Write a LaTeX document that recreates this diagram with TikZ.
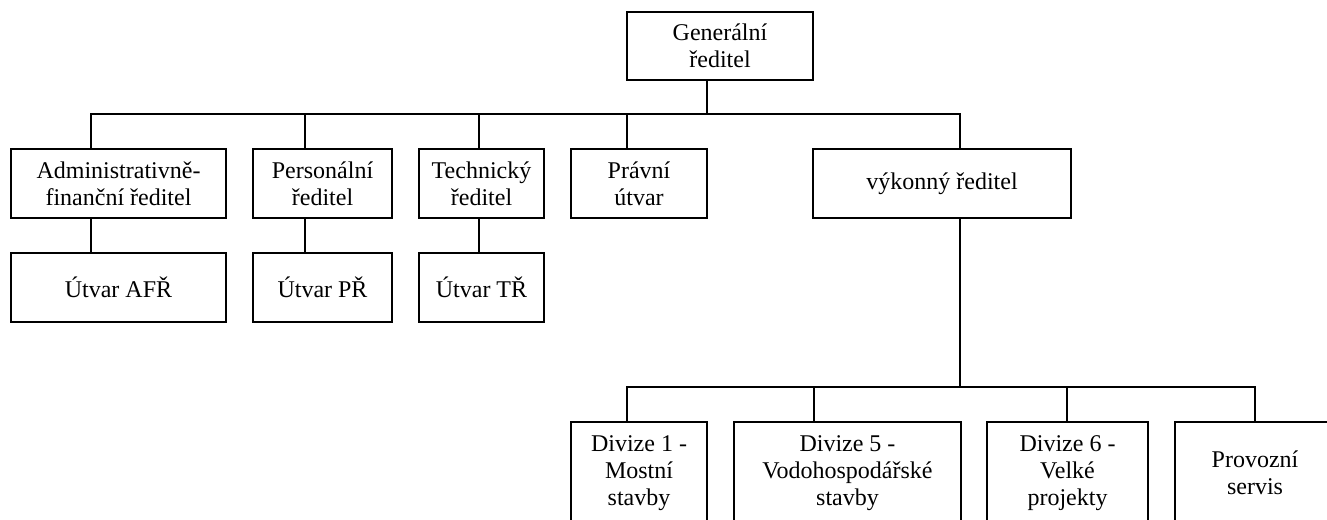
\documentclass[tikz,border=0pt]{standalone}
\usepackage{fontspec}
\setmainfont{Liberation Serif}
\begin{document}
\begin{tikzpicture}[x=0.75pt,y=-0.75pt,
  box/.style={draw,line width=1.6pt,rectangle,align=center,inner sep=0pt,
    font=\fontsize{18}{20.25}\selectfont},
  upper/.style={box,minimum height=51.75pt},
  lower/.style={box,minimum height=76.5pt},
  conn/.style={line width=1.6pt}]
\useasboundingbox (0,0) rectangle (1327,519);
\clip (0,0) rectangle (1327,519);
% top
\node[box,minimum width=139.5pt,minimum height=51pt] (gr) at (720,46) {Generální\\ředitel};
% second row
\node[upper,minimum width=161.25pt] (af) at (118.5,183.5) {Administrativně-\\finanční ředitel};
\node[upper,minimum width=104.25pt] (pr) at (322.5,183.5) {Personální\\ředitel};
\node[upper,minimum width=93.75pt] (tr) at (481.5,183.5) {Technický\\ředitel};
\node[upper,minimum width=102pt] (pu) at (639,183.5) {Právní\\útvar};
\node[upper,minimum width=193.5pt] (vr) at (942,183.5) {výkonný ředitel};
% third row
\node[upper,minimum width=161.25pt] (afr) at (118.5,287.5) {Útvar AFŘ};
\node[upper,minimum width=104.25pt] (prr) at (322.5,287.5) {Útvar PŘ};
\node[upper,minimum width=93.75pt] (trr) at (481.5,287.5) {Útvar TŘ};
% bottom row
\node[lower,minimum width=102pt] (d1) at (639,473) {Divize 1 -\\Mostní\\stavby};
\node[lower,minimum width=170.25pt] (d5) at (847.5,473) {Divize 5 -\\Vodohospodářské\\stavby};
\node[lower,minimum width=120.75pt] (d6) at (1067.5,473) {Divize 6 -\\Velké\\projekty};
\node[lower,minimum width=120pt] (ps) at (1255,473) {Provozní\\servis};
% bus coordinates
\coordinate (jgr) at (707,114);
\coordinate (jaf) at (91,114);
\coordinate (jpr) at (305,114);
\coordinate (jtr) at (479,114);
\coordinate (jpu) at (627,114);
\coordinate (jvr) at (960,114);
\coordinate (kvr) at (960,387);
\coordinate (kd1) at (627,387);
\coordinate (kd5) at (814,387);
\coordinate (kd6) at (1067,387);
\coordinate (kps) at (1255,387);
% connectors
\draw[conn] (jgr |- gr.south) -- (jgr);
\draw[conn] (jaf |- af.north) -- (jaf) -- (jvr) -- (jvr |- vr.north);
\draw[conn] (jpr) -- (jpr |- pr.north);
\draw[conn] (jtr) -- (jtr |- tr.north);
\draw[conn] (jpu) -- (jpu |- pu.north);
\draw[conn] (jaf |- af.south) -- (jaf |- afr.north);
\draw[conn] (jpr |- pr.south) -- (jpr |- prr.north);
\draw[conn] (jtr |- tr.south) -- (jtr |- trr.north);
\draw[conn] (kvr |- vr.south) -- (kvr);
\draw[conn] (kd1 |- d1.north) -- (kd1) -- (kps) -- (kps |- ps.north);
\draw[conn] (kd5) -- (kd5 |- d5.north);
\draw[conn] (kd6) -- (kd6 |- d6.north);
\end{tikzpicture}
\end{document}
